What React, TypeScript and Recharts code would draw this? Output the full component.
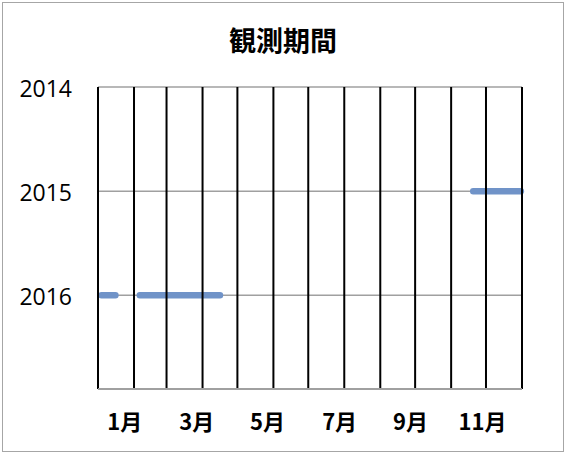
import {
  LineChart, Line, XAxis, YAxis, CartesianGrid, ReferenceLine
} from 'recharts'

const monthLabels = ['1月', '3月', '5月', '7月', '9月', '11月']
const monthLabelDays = [23, 85, 146, 208, 269, 331]
const monthBoundaries = [0, 31, 59, 90, 120, 151, 181, 212, 243, 273, 304, 334, 365]
const yearTicks = [2014, 2015, 2016]

// observation periods: year, start day, end day
const periodYears = [2016, 2016, 2015]
const periodStarts = [3, 36, 323]
const periodEnds = [15, 105, 364]

const periods = periodYears.map((year, i) => [
  { day: periodStarts[i], year },
  { day: periodEnds[i], year },
])

const jpFont = '"Noto Sans CJK JP", sans-serif'

export default function App() {
  return (
    <div style={{ position: 'relative', width: 566, height: 454, background: '#fff' }}>
      <style>{'body{margin:0}'}</style>
      <div style={{
        position: 'absolute', left: 2, top: 2, width: 560, height: 448,
        border: '1px solid #a6a6a6'
      }} />
      <div style={{
        position: 'absolute', left: 0, top: 25, width: 566, textAlign: 'center',
        fontFamily: jpFont, fontWeight: 700, fontSize: 27, lineHeight: '30px', color: '#000'
      }}>
        観測期間
      </div>
      <div style={{ position: 'absolute', left: 0, top: 0 }}>
        <LineChart width={566} height={454} margin={{ top: 87, right: 44, bottom: 0, left: 0 }}>
          <CartesianGrid vertical={false} stroke="#a0a0a0" strokeWidth={1.5} horizontalValues={yearTicks} />
          <XAxis
            type="number"
            dataKey="day"
            domain={[0, 365]}
            ticks={monthLabelDays}
            tickFormatter={(v: number) => monthLabels[monthLabelDays.indexOf(v)]}
            height={65}
            tickLine={false}
            tickSize={0}
            tickMargin={25}
            axisLine={{ stroke: '#a0a0a0', strokeWidth: 2 }}
            tick={{ fontSize: 22, fontFamily: jpFont, fontWeight: 700, fill: '#000' }}
            interval={0}
          />
          <YAxis
            type="number"
            dataKey="year"
            domain={[2014, 2016.9]}
            reversed
            ticks={yearTicks}
            width={98}
            axisLine={false}
            tickLine={false}
            tickSize={0}
            tickMargin={26}
            tick={{ fontSize: 23, fontFamily: '"Open Sans", sans-serif', fill: '#000', dy: 2 }}
            allowDataOverflow
          />
          {periods.map((seg, i) => (
            <Line
              key={i}
              data={seg}
              dataKey="year"
              type="linear"
              stroke="#7093c8"
              strokeWidth={6.5}
              strokeLinecap="round"
              dot={false}
              activeDot={false}
              isAnimationActive={false}
            />
          ))}
          {monthBoundaries.map((d) => (
            <ReferenceLine key={d} x={d} stroke="#000" strokeWidth={2} />
          ))}
        </LineChart>
      </div>
    </div>
  )
}
